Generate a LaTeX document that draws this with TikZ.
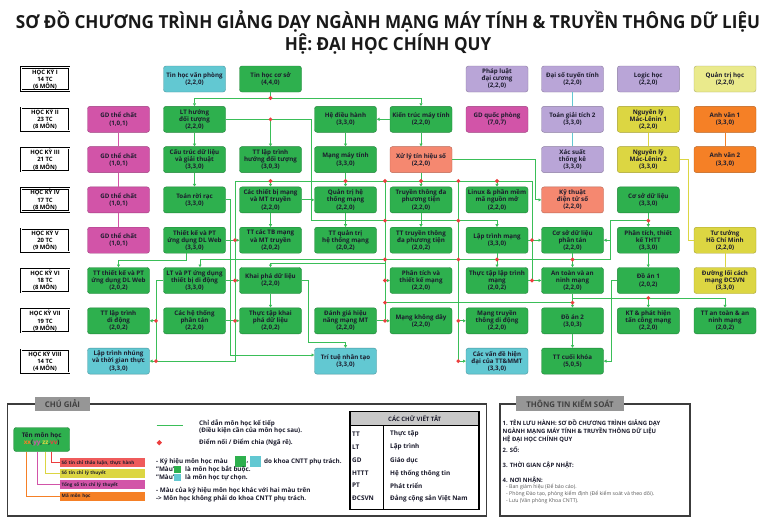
\documentclass[tikz,border=0pt]{standalone}
\usepackage{fontspec}
\setmainfont{Open Sans}
\usetikzlibrary{shapes.geometric,arrows.meta}
\definecolor{cgreen}{RGB}{46,176,78}
\definecolor{ccyan}{RGB}{98,200,210}
\definecolor{cpurple}{RGB}{185,165,215}
\definecolor{cmag}{RGB}{210,84,168}
\definecolor{cyel}{RGB}{220,214,66}
\definecolor{cpale}{RGB}{234,234,140}
\definecolor{corange}{RGB}{245,128,38}
\definecolor{csalmon}{RGB}{245,136,112}
\definecolor{lgreen}{RGB}{58,190,88}
\definecolor{txt}{RGB}{28,28,45}
\definecolor{lred}{RGB}{236,62,62}
\definecolor{tabgray}{RGB}{150,150,150}
\definecolor{hdgray}{RGB}{200,200,200}
\definecolor{frame}{RGB}{60,60,60}
\begin{document}
\begin{tikzpicture}[x=1pt,y=-1pt,
  course/.style={rounded corners=2.5pt, minimum width=62pt, minimum height=26pt, inner sep=0.3pt, align=center, text=txt, font=\bfseries\fontsize{6.2}{7.1}\selectfont, line width=0.4pt},
  gbox/.style={course, fill=cgreen, draw=cgreen!75!black},
  cbox/.style={course, fill=ccyan, draw=ccyan!75!black},
  pbox/.style={course, fill=cpurple, draw=cpurple!75!black},
  mbox/.style={course, fill=cmag, draw=cmag!75!black},
  ybox/.style={course, fill=cyel, draw=cyel!75!black},
  yybox/.style={course, fill=cpale, draw=cpale!75!black},
  obox/.style={course, fill=corange, draw=corange!75!black},
  sbox/.style={course, fill=csalmon, draw=csalmon!75!black},
  sem/.style={draw=black, line width=0.7pt, double=white, double distance=0.8pt, minimum width=48pt, minimum height=23pt, inner sep=0pt, align=center, font=\bfseries\fontsize{5.9}{7.2}\selectfont},
  ln/.style={draw=lgreen, line width=0.9pt},
  arr/.style={ln, -{Triangle[length=2.8pt,width=3pt]}},
  mln/.style={draw=cmag, line width=0.9pt},
  yln/.style={draw=cyel, line width=0.9pt},
  oln/.style={draw=corange, line width=0.9pt},
  cln/.style={draw=ccyan, line width=0.9pt},
  rdot/.style={diamond, fill=lred, inner sep=0pt, minimum size=4.2pt},
  frm/.style={draw=frame, line width=1.3pt},
  tab/.style={fill=tabgray, minimum height=14.5pt, inner sep=0pt, font=\bfseries\fontsize{7.8}{8}\selectfont, text=black!75},
  lab/.style={minimum height=8.5pt, text width=82pt, inner xsep=1.5pt, inner ysep=0pt, align=left, font=\bfseries\fontsize{4.6}{5}\selectfont, text=txt, anchor=west},
  lt/.style={font=\bfseries\fontsize{6.3}{7.4}\selectfont, text=txt, align=left, inner sep=0pt},
  abbr/.style={font=\bfseries\fontsize{6.4}{7}\selectfont, text=txt, inner sep=0pt, anchor=west},
  inft/.style={font=\bfseries\fontsize{5.9}{6.4}\selectfont, text=txt, align=left, inner sep=0pt},
  infs/.style={font=\fontsize{5.2}{6.7}\selectfont, text=black!65, align=left, inner sep=0pt}
]
\useasboundingbox (0,0) rectangle (776,531);
\fill[white] (0,0) rectangle (776,531);

% title
\node[font=\bfseries\fontsize{18}{20}\selectfont, text=black!90, inner sep=0] (title1) at (388,21) {\scalebox{0.95}[1]{SƠ ĐỒ CHƯƠNG TRÌNH GIẢNG DẠY NGÀNH MẠNG MÁY TÍNH \& TRUYỀN THÔNG DỮ LIỆU}};
\node[font=\bfseries\fontsize{18}{20}\selectfont, text=black!90, inner sep=0] (title2) at (388,44) {\scalebox{0.95}[1]{HỆ: ĐẠI HỌC CHÍNH QUY}};

% semesters
\node[sem] (s1) at (45,79) {HỌC KỲ I\\14 TC\\(6 MÔN)};
\node[sem] (s2) at (45,119.3) {HỌC KỲ II\\23 TC\\(8 MÔN)};
\node[sem] (s3) at (45,159.6) {HỌC KỲ III\\21 TC\\(8 MÔN)};
\node[sem] (s4) at (45,199.9) {HỌC KỲ IV\\17 TC\\(8 MÔN)};
\node[sem] (s5) at (45,240.2) {HỌC KỲ V\\20 TC\\(9 MÔN)};
\node[sem] (s6) at (45,280.5) {HỌC KỲ VI\\18 TC\\(8 MÔN)};
\node[sem] (s7) at (45,320.8) {HỌC KỲ VII\\19 TC\\(9 MÔN)};
\node[sem] (s8) at (45,361.1) {HỌC KỲ VIII\\14 TC\\(4 MÔN)};

% row 1
\node[cbox] (b1) at (194.5,79) {Tin học văn phòng\\(2,2,0)};
\node[gbox] (c1) at (270.5,79) {Tin học cơ sở\\(4,4,0)};
\node[pbox] (f1) at (497,79) {Pháp luật\\đại cương\\(2,2,0)};
\node[pbox] (g1) at (572.5,79) {Đại số tuyến tính\\(2,2,0)};
\node[pbox] (h1) at (648.3,79) {Logic học\\(2,2,0)};
\node[yybox] (i1) at (725,79) {Quản trị học\\(2,2,0)};
% row 2
\node[mbox] (a2) at (118.5,119.3) {GD thể chất\\(1,0,1)};
\node[gbox] (b2) at (194.5,119.3) {LT hướng\\đối tượng\\(2,2,0)};
\node[gbox] (d2) at (345.5,119.3) {Hệ điều hành\\(3,3,0)};
\node[gbox] (e2) at (421,119.3) {Kiến trúc máy tính\\(2,2,0)};
\node[mbox] (f2) at (497,119.3) {GD quốc phòng\\(7,0,7)};
\node[pbox] (g2) at (572.5,119.3) {Toán giải tích 2\\(3,3,0)};
\node[ybox] (h2) at (648.3,119.3) {Nguyên lý\\Mác-Lênin 1\\(2,2,0)};
\node[obox] (i2) at (725,119.3) {Anh văn 1\\(3,3,0)};
% row 3
\node[mbox] (a3) at (118.5,159.6) {GD thể chất\\(1,0,1)};
\node[gbox] (b3) at (194.5,159.6) {Cấu trúc dữ liệu\\và giải thuật\\(3,3,0)};
\node[gbox] (c3) at (270.5,159.6) {TT lập trình\\hướng đối tượng\\(3,0,3)};
\node[gbox] (d3) at (345.5,159.6) {Mạng máy tính\\(3,3,0)};
\node[sbox] (e3) at (421,159.6) {Xử lý tín hiệu số\\(2,2,0)};
\node[pbox] (g3) at (572.5,159.6) {Xác suất\\thống kê\\(3,3,0)};
\node[ybox] (h3) at (648.3,159.6) {Nguyên lý\\Mác-Lênin 2\\(3,3,0)};
\node[obox] (i3) at (725,159.6) {Anh văn 2\\(3,3,0)};
% row 4
\node[mbox] (a4) at (118.5,199.9) {GD thể chất\\(1,0,1)};
\node[gbox] (b4) at (194.5,199.9) {Toán rời rạc\\(3,3,0)};
\node[gbox] (c4) at (270.5,199.9) {Các thiết bị mạng\\và MT truyền\\(2,2,0)};
\node[gbox] (d4) at (345.5,199.9) {Quản trị hệ\\thống mạng\\(2,2,0)};
\node[gbox] (e4) at (421,199.9) {Truyền thông đa\\phương tiện\\(2,2,0)};
\node[gbox] (f4) at (497,199.9) {Linux \& phần mềm\\mã nguồn mở\\(2,2,0)};
\node[sbox] (g4) at (572.5,199.9) {Kỹ thuật\\điện tử số\\(2,2,0)};
\node[gbox] (h4) at (648.3,199.9) {Cơ sở dữ liệu\\(3,3,0)};
% row 5
\node[mbox] (a5) at (118.5,240.2) {GD thể chất\\(1,0,1)};
\node[gbox] (b5) at (194.5,240.2) {Thiết kế và PT\\ứng dụng DL Web\\(3,3,0)};
\node[gbox] (c5) at (270.5,240.2) {TT các TB mạng\\và MT truyền\\(2,0,2)};
\node[gbox] (d5) at (345.5,240.2) {TT quản trị\\hệ thống mạng\\(2,0,2)};
\node[gbox] (e5) at (421,240.2) {TT truyền thông\\đa phương tiện\\(2,0,2)};
\node[gbox] (f5) at (497,240.2) {Lập trình mạng\\(3,3,0)};
\node[gbox] (g5) at (572.5,240.2) {Cơ sở dữ liệu\\phân tán\\(2,2,0)};
\node[gbox] (h5) at (648.3,240.2) {Phân tích, thiết\\kế THTT\\(3,3,0)};
\node[ybox] (i5) at (725,240.2) {Tư tưởng\\Hồ Chí Minh\\(2,2,0)};
% row 6
\node[gbox] (a6) at (118.5,280.5) {TT thiết kế và PT\\ứng dụng DL Web\\(2,0,2)};
\node[gbox] (b6) at (194.5,280.5) {LT và PT ứng dụng\\thiết bị di động\\(3,3,0)};
\node[gbox] (c6) at (270.5,280.5) {Khai phá dữ liệu\\(2,2,0)};
\node[gbox] (e6) at (421,280.5) {Phân tích và\\thiết kế mạng\\(2,2,0)};
\node[gbox] (f6) at (497,280.5) {Thực tập lập trình\\mạng\\(2,0,2)};
\node[gbox] (g6) at (572.5,280.5) {An toàn và an\\ninh mạng\\(2,2,0)};
\node[gbox] (h6) at (648.3,280.5) {Đồ án 1\\(2,0,2)};
\node[ybox] (i6) at (725,280.5) {Đường lối cách\\mạng ĐCSVN\\(3,3,0)};
% row 7
\node[gbox] (a7) at (118.5,320.8) {TT lập trình\\di động\\(2,0,2)};
\node[gbox] (b7) at (194.5,320.8) {Các hệ thống\\phân tán\\(2,2,0)};
\node[gbox] (c7) at (270.5,320.8) {Thực tập khai\\phá dữ liệu\\(2,0,2)};
\node[gbox] (d7) at (345.5,320.8) {Đánh giá hiệu\\năng mạng MT\\(2,2,0)};
\node[gbox] (e7) at (421,320.8) {Mạng không dây\\(2,2,0)};
\node[gbox] (f7) at (497,320.8) {Mạng truyền\\thông di động\\(2,2,0)};
\node[gbox] (g7) at (572.5,320.8) {Đồ án 2\\(3,0,3)};
\node[gbox] (h7) at (648.3,320.8) {KT \& phát hiện\\tấn công mạng\\(2,2,0)};
\node[gbox] (i7) at (725,320.8) {TT an toàn \& an\\ninh mạng\\(2,0,2)};
% row 8
\node[cbox] (a8) at (118.5,361.1) {Lập trình nhúng\\và thời gian thực\\(3,3,0)};
\node[cbox] (d8) at (345.5,361.1) {Trí tuệ nhân tạo\\(3,3,0)};
\node[cbox] (f8) at (497,361.1) {Các vấn đề hiện\\đại của TT\&MMT\\(3,3,0)};
\node[gbox] (g8) at (572.5,361.1) {TT cuối khóa\\(5,0,5)};

% ---- connectors
\draw[ln] (c1.south) -- (270.5,98);
\draw[arr] (270.5,98) -| (b2.north);
\draw[arr] (270.5,98) -| (e2.north);
\draw[arr] (b2.east) -- (311.7,119.3) -- (311.7,220.7) -| (f5.north);
\draw[arr] (270.5,119.3) -- (c3.north);
\draw[arr] (b2.south) -- (b3.north);
\draw[arr] (b3.south) -- (b4.north);
\draw[arr] (e2.west) -- (d2.east);
\draw[arr] (d2.south) -- (d3.north);
\draw[arr] (e2.south) -- (e3.north);
\draw[arr] (e3.east) -- (535,159.6) |- (g4.west);
% bus under row 3
\draw[ln] (d3.south) -- (345.5,181);
\draw[ln] (e3.south) -- (421,181);
\draw[ln] (235,181) -- (532,181);
\draw[arr] (270.5,181) -- (c4.north);
\draw[arr] (345.5,181) -- (d4.north);
\draw[arr] (421,181) -- (e4.north);
\draw[arr] (497,181) -- (f4.north);
\draw[arr] (c4.east) -- (d4.west);
\draw[arr] (c4.south) -- (c5.north);
\draw[arr] (d4.south) -- (d5.north);
\draw[arr] (e4.south) -- (e5.north);
% left verticals
\draw[arr] (235,181) |- (a8.east);
\draw[arr] (b5.east) -- (c5.west);
\draw[arr] (b6.east) -- (c6.west);
\draw[arr] (b7.east) -- (c7.west);
\draw[arr] (b4.east) -- (230,199.9) -- (230,355) -- (d8.west |- 230,355);
\draw[arr] ([xshift=-8pt]b5.south) -- ++(0,7) -| (a6.north);
% bus under row 5
\draw[arr] (h4.south) -- (h5.north);
\draw[ln] (648.3,220.7) -- (610,220.7) -- (610,259.5) -- (200,259.5);
\draw[arr] (200,259.5) -- ([xshift=5.5pt]b6.north);
\draw[arr] (610,240.2) -- (g5.east);
\draw[arr] (385,263.5) -| (c6.north);
\draw[arr] (f5.south) -- (f6.north);
\draw[arr] (g5.south) -- (g6.north);
\draw[ln] (532,181) -- (532,280.5);
\draw[arr] (f5.east) -- (g5.west);
\draw[arr] (f6.east) -- (g6.west);
% V385
\draw[ln] (385,181) -- (385,320.8);
\draw[arr] (385,280.5) -- (e6.west);
\draw[arr] (d7.east) -- (e7.west);
\draw[ln] (385,302.7) -- (572.5,302.7);
% V458
\draw[arr] (458.3,181) |- (f8.west);
\draw[arr] (458.3,320.8) -- (f7.west);
% G/H columns
\draw[arr] (g6.south) -- (g7.north);
\draw[arr] (572.5,298) -| (i7.north);
\draw[arr] (648.3,298) -- (h7.north);
\draw[arr] (g7.south) -- (g8.north);
\draw[arr] (h5.south) -- (h6.north);
\draw[arr] (h6.west) -- (611.5,280.5) |- (g8.east);
% C6
\draw[arr] (c6.south) -- (c7.north);
\draw[arr] (c6.east) -- (308,280.5) -- (308,342) -| (d8.north);
% B6 -> A7, A8
\draw[ln] (b6.west) -- (156,280.5) -- (156,361.1);
\draw[arr] (156,320.8) -- (a7.east);
% coloured chains
\draw[mln] (a2.south) -- (a3.north);
\draw[mln] (a3.south) -- (a4.north);
\draw[mln] (a4.south) -- (a5.north);
\draw[cln] (g1.south) -- (g2.north);
\draw[cln] (g2.south) -- (g3.north);
\draw[yln] (h2.south) -- (h3.north);
\draw[yln] (h3.east) -- (688,159.6) |- (i5.west);
\draw[yln] (i5.south) -- (i6.north);
\draw[oln] (i2.south) -- (i3.north);

% junction dots
\foreach \x/\y [count=\i] in {270.5/98, 270.5/119.3, 270.5/181, 345.5/181, 385/181, 421/181, 458.3/181, 497/181, 385/220.7, 458.3/220.7, 648.3/220.7, 235/240.2, 532/240.2, 385/259.5, 458.3/259.5, 497/259.5, 572.5/259.5, 235/280.5, 385/280.5, 532/280.5, 385/302.7, 572.5/302.7, 648.3/298, 156/320.8, 235/320.8, 385/320.8, 458.3/320.8, 156/361.1, 458.3/361.1}
  \node[rdot] (jd\i) at (\x,\y) {};

% ---- legend
\draw[frm] (7.5,404) rectangle (486.5,516);
\node[tab, minimum width=55pt] (tab1) at (62.5,404) {CHÚ GIẢI};
\node[gbox, minimum width=56pt, minimum height=24pt, font=\bfseries\fontsize{6.3}{7.6}\selectfont] (tm) at (41.7,439.5) {Tên môn học\\\textcolor{corange}{xx}(\textcolor{cmag}{yy},\textcolor{cyel}{zz},\textcolor{lred}{vv})};
\node[lab, fill=lred!85] (l1) at (60,462.7) {Số tín chỉ thảo luận, thực hành};
\node[lab, fill=cyel] (l2) at (60,473.3) {Số tín chỉ lý thuyết};
\node[lab, fill=cmag] (l3) at (60,484.7) {Tổng số tín chỉ lý thuyết};
\node[lab, fill=corange] (l4) at (60,496.3) {Mã môn học};
\draw[draw=lred, line width=0.8pt] (tm.south -| 51.7,0) |- (l1.west);
\draw[draw=cyel, line width=0.8pt] (tm.south -| 45,0) |- (l2.west);
\draw[draw=cmag, line width=0.8pt] (tm.south -| 37.3,0) |- (l3.west);
\draw[draw=corange, line width=0.8pt] (tm.south -| 26,0) |- (l4.west);

\coordinate (lg1) at (156.7,425);
\coordinate (lg2) at (182.7,425);
\draw[ln] (lg1) -- (lg2);
\node[lt, anchor=west] (t1) at (199,427) {Chỉ dẫn môn học kế tiếp\\(Điều kiện cần của môn học sau).};
\node[rdot, minimum size=5.5pt] (ld) at (159.3,442.7) {};
\node[lt, anchor=west] (t2) at (199,443) {Điểm nối / Điểm chia (Ngã rẽ).};
\node[lt, anchor=west] (t3) at (156,461.7) {- Ký hiệu môn học màu};
\node[fill=cgreen, minimum width=11pt, minimum height=11pt, inner sep=0pt] (sq1) at (240.5,461) {};
\node[lt, anchor=west] (t3b) at (246.3,462.5) {,};
\node[fill=ccyan, minimum width=11pt, minimum height=11pt, inner sep=0pt] (sq2) at (255.5,461) {};
\node[lt, anchor=west] (t4) at (264,461.7) {do khoa CNTT phụ trách.};
\node[lt, anchor=west] (t5) at (156,469.6) {"Màu"};
\node[fill=cgreen, minimum width=6.5pt, minimum height=7pt, inner sep=0pt] (sq3) at (177.5,469.3) {};
\node[lt, anchor=west] (t6) at (185,469.6) {là môn học bắt buộc.};
\node[lt, anchor=west] (t7) at (156,477.6) {"Màu"};
\node[fill=ccyan, minimum width=6.5pt, minimum height=7pt, inner sep=0pt] (sq4) at (177.5,477.3) {};
\node[lt, anchor=west] (t8) at (185,477.6) {là môn học tự chọn.};
\node[lt, anchor=west] (t9) at (156,494.5) {- Màu của ký hiệu môn học khác với hai màu trên\\-> Môn học không phải do khoa CNTT phụ trách.};

% abbreviations table
\node[fill=hdgray, minimum width=129pt, minimum height=13.3pt, anchor=north west, inner sep=0pt, font=\bfseries\fontsize{6}{6}\selectfont, text=txt] (th) at (350,411.7) {CÁC CHỮ VIẾT TẮT};
\draw[line width=1.3pt] (350,411.7) rectangle (479,509.3);
\draw[line width=1.1pt] (th.south west) -- (th.south east);
\draw[line width=1.1pt] (383.3,425) -- (383.3,509.3);
\node[abbr] (ab1) at (352,434) {TT};
\node[abbr] (ab2) at (352,447.3) {LT};
\node[abbr] (ab3) at (352,460.7) {GD};
\node[abbr] (ab4) at (352,473.3) {HTTT};
\node[abbr] (ab5) at (352,485.7) {PT};
\node[abbr] (ab6) at (352,498.3) {ĐCSVN};
\node[abbr] (ax1) at (390,434) {Thực tập};
\node[abbr] (ax2) at (390,447.3) {Lập trình};
\node[abbr] (ax3) at (390,460.7) {Giáo dục};
\node[abbr] (ax4) at (390,473.3) {Hệ thống thông tin};
\node[abbr] (ax5) at (390,485.7) {Phát triển};
\node[abbr] (ax6) at (390,498.3) {Đảng cộng sản Việt Nam};

% control info
\draw[frm] (500,404) rectangle (690,516);
\node[tab, minimum width=108pt] (tab2) at (570,403.5) {THÔNG TIN KIỂM SOÁT};
\node[inft, anchor=north west] (inf1) at (502.5,419.5) {1. TÊN LƯU HÀNH: SƠ ĐỒ CHƯƠNG TRÌNH GIẢNG DẠY\\NGÀNH MẠNG MÁY TÍNH \& TRUYỀN THÔNG DỮ LIỆU\\HỆ ĐẠI HỌC CHÍNH QUY};
\node[inft, anchor=west] (inf2) at (502.5,450) {2. SỐ:};
\node[inft, anchor=west] (inf3) at (502.5,465) {3. THỜI GIAN CẬP NHẬT:};
\node[inft, anchor=west] (inf4) at (502.5,480) {4. NƠI NHẬN:};
\node[infs, anchor=north west] (inf5) at (506,484) {- Ban giám hiệu (Để báo cáo).\\- Phòng Đào tạo, phòng kiểm định (Để kiểm soát và theo dõi).\\- Lưu (Văn phòng Khoa CNTT).};
\end{tikzpicture}
\end{document}
